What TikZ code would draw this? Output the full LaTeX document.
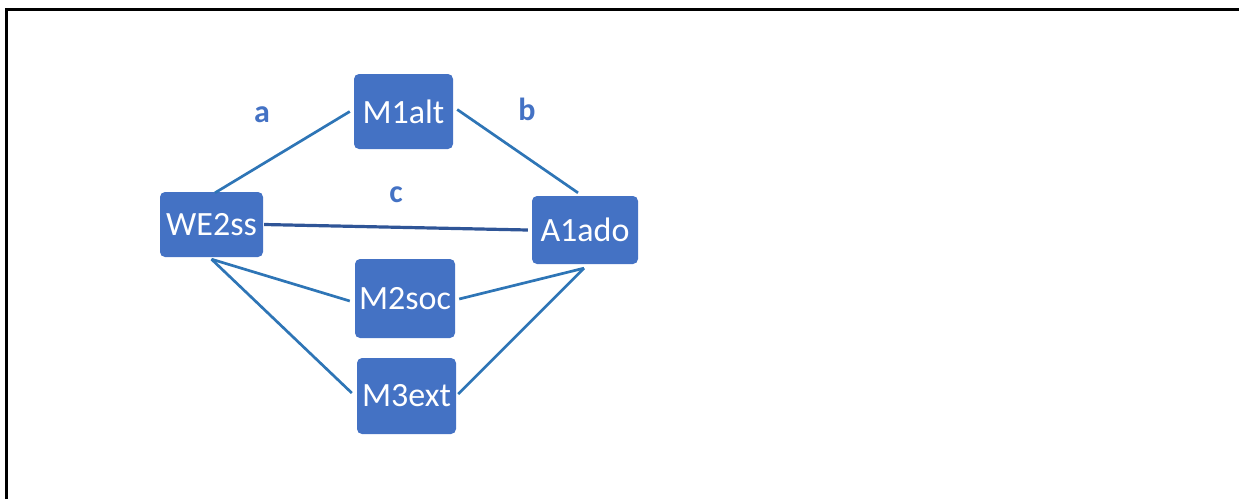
\documentclass[tikz,border=0pt]{standalone}
\usepackage{fontspec}
\setmainfont{Carlito}
\usetikzlibrary{calc}
\definecolor{boxblue}{HTML}{4472C4}
\definecolor{linkblue}{HTML}{2E75B6}
\definecolor{darklink}{HTML}{2F5597}
\tikzset{
  varbox/.style={rectangle, rounded corners=5pt, fill=boxblue, draw=none,
    text=white, inner sep=0pt, font=\fontsize{34}{36}\selectfont},
  link/.style={draw=linkblue, line width=2.7pt},
  mainlink/.style={draw=darklink, line width=3.2pt},
  pathlabel/.style={text=boxblue, font=\fontsize{32}{36}\selectfont\bfseries}
}
\begin{document}
\begin{tikzpicture}[x=1pt,y=-1pt]
  \useasboundingbox (0,0) rectangle (1239,499);
  % open frame: left and top edges
  \coordinate (frameBL) at (6,499);
  \coordinate (frameTL) at (6,9);
  \coordinate (frameTR) at (1239,9);
  \draw[black, line width=3pt] (frameBL) -- (frameTL) -- (frameTR);

  % variables
  \node[varbox, minimum width=103pt, minimum height=65pt] (we) at (211.5,224.5) {WE2ss};
  \node[varbox, minimum width=99pt,  minimum height=75pt] (m1) at (403.5,111.5) {M1alt};
  \node[varbox, minimum width=100pt, minimum height=79pt] (m2) at (405,298.5) {M2soc};
  \node[varbox, minimum width=99pt,  minimum height=76pt] (m3) at (406.5,396) {M3ext};
  \node[varbox, minimum width=106pt, minimum height=68pt] (a1) at (585,230) {A1ado};

  % path labels
  \node[pathlabel] (la) at (262,115) {a};
  \node[pathlabel] (lb) at (527,109) {b};
  \node[pathlabel] (lc) at (396,195) {c};

  % connections
  \draw[link] ($(we.north)+(3.5,1)$) -- ($(m1.west)+(-4,0)$);
  \draw[link] ($(m1.east)+(4,-2)$) -- ($(a1.north)+(-7,-3)$);
  \draw[mainlink] ($(we.east)+(1,0)$) -- ($(a1.west)+(-4,0)$);
  \draw[link] ($(we.south)+(0,2)$) -- ($(m2.west)+(-5,2.5)$);
  \draw[link] ($(we.south)+(0,2)$) -- ($(m3.west)+(-5,-3)$);
  \draw[link] ($(m2.east)+(4,0.5)$) -- ($(a1.south)+(-1,4)$);
  \draw[link] ($(m3.east)+(2,-2)$) -- ($(a1.south)+(-1,4)$);
\end{tikzpicture}
\end{document}
